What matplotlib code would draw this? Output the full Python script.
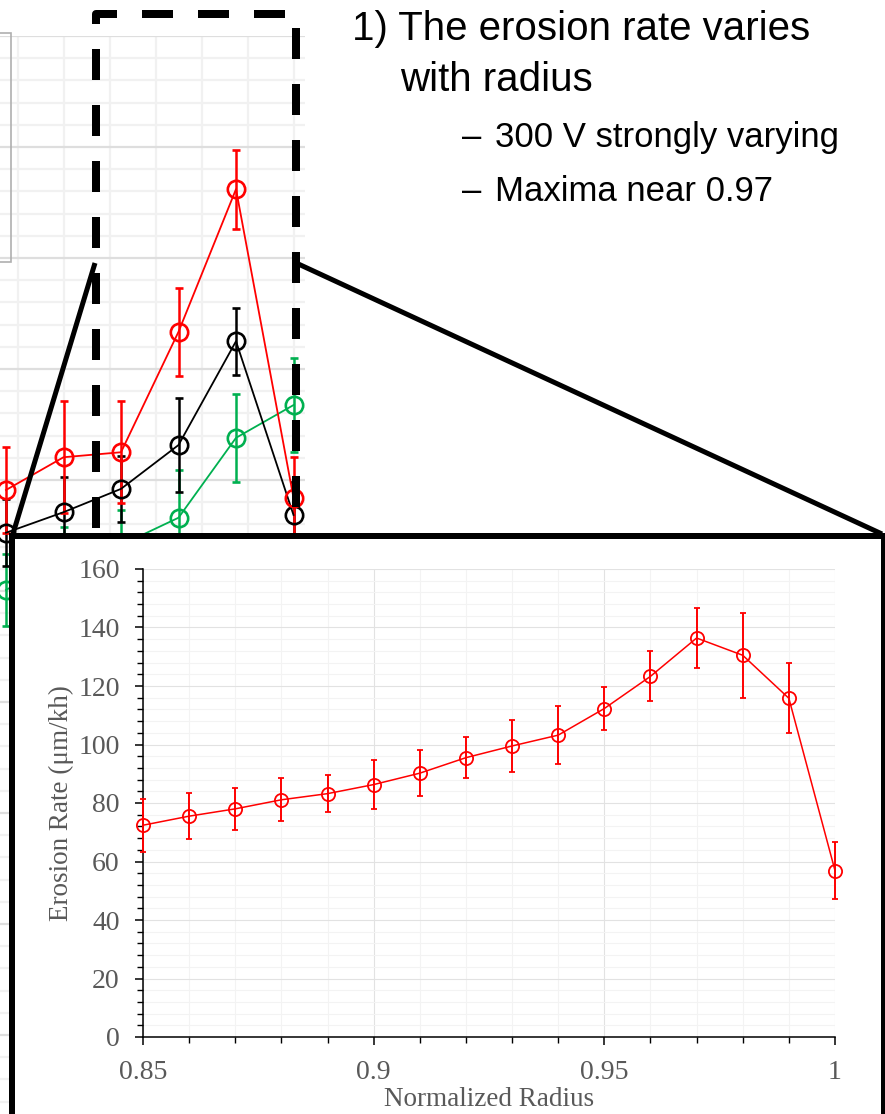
import matplotlib
matplotlib.use("Agg")
import matplotlib.pyplot as plt
import matplotlib.ticker as mticker
from matplotlib.lines import Line2D
from matplotlib.patches import Rectangle

# ---- data -------------------------------------------------------------
# zoomed-in chart (300 V)
radius = [0.85, 0.86, 0.87, 0.88, 0.89, 0.90, 0.91, 0.92,
          0.93, 0.94, 0.95, 0.96, 0.97, 0.98, 0.99, 1.00]
rate = [72.4, 75.5, 78.0, 81.1, 83.2, 86.3, 90.2, 95.5,
        99.5, 103.2, 112.3, 123.3, 136.4, 130.5, 115.8, 56.9]
rate_err = [9.1, 7.8, 7.2, 7.3, 6.4, 8.5, 7.8, 7.1,
            8.9, 9.9, 7.5, 8.5, 10.1, 14.6, 12.0, 9.6]

# background chart (partly hidden behind the zoom)
bg_radius = [0.95, 0.96, 0.97, 0.98, 0.99, 1.00]
bg_red = [38.2, 44.1, 45.0, 66.7, 92.4, 36.8]
bg_red_err = [7.7, 10.1, 9.2, 7.9, 7.1, 7.3]
bg_black = [30.5, 34.2, 38.4, 46.3, 65.0, 33.7]
bg_black_err = [6.0, 6.3, 6.0, 8.4, 6.0, 6.0]
bg_green = [20.2, 25.6, 28.3, 33.2, 47.6, 53.5]
bg_green_err = [6.5, 6.0, 6.3, 8.6, 7.9, 8.5]

bullets = ["300 V strongly varying", "Maxima near 0.97"]

# ---- layout helpers (pixels -> figure fraction) -----------------------
W, H = 885, 1114
PT = 100 / 72.0   # pixels per point


def fx(px):
    return px / W


def fy(py):
    return 1 - py / H


plt.rcParams['lines.scale_dashes'] = False

fig = plt.figure(figsize=(W / 100, H / 100), dpi=100)
fig.patch.set_facecolor('white')

# ---- background chart -------------------------------------------------
bl, br, bt, bb = -40, 305, 36, 1114
bg = fig.add_axes([fx(bl), fy(bb), fx(br) - fx(bl), fy(bt) - fy(bb)], zorder=0)
bg.set_xlim(0.95 + (bl - 6) / 5750, 0.95 + (br - 6) / 5750)
bg.set_ylim(40 - (bb - 480) / 5.55, 40 + (480 - bt) / 5.55)
for s in bg.spines.values():
    s.set_visible(False)
bg.xaxis.set_major_locator(mticker.MultipleLocator(0.008))
bg.yaxis.set_major_locator(mticker.MultipleLocator(20))
bg.yaxis.set_minor_locator(mticker.MultipleLocator(4))
bg.grid(which='major', axis='y', color='#DEDEDE', lw=1.6)
bg.grid(which='minor', axis='y', color='#F1F1F1', lw=1.6)
bg.grid(which='major', axis='x', color='#F1F1F1', lw=1.6)
bg.tick_params(which='both', length=0, labelbottom=False, labelleft=False)

for yv, ev, col in [(bg_green, bg_green_err, '#00B050'),
                    (bg_black, bg_black_err, 'black'),
                    (bg_red, bg_red_err, '#FF0000')]:
    bg.errorbar(bg_radius, yv, yerr=ev, color=col, lw=1.3, marker='o',
                ms=12.5, mfc='none', mew=1.9, elinewidth=1.8, capsize=3,
                capthick=1.8)

# legend box of the background chart
fig.add_artist(Rectangle((fx(-20), fy(262)), fx(11) - fx(-20), fy(33) - fy(262),
                         transform=fig.transFigure, fill=False,
                         edgecolor='#AFAFAF', lw=1.2, zorder=1))

# dashed zoom box
box = Line2D([fx(96), fx(96), fx(296), fx(296)], [fy(528), fy(13.5), fy(13.5), fy(531)],
             transform=fig.transFigure, color='black', lw=8 / PT,
             dash_capstyle='butt', solid_joinstyle='round', dash_joinstyle='round',
             zorder=1)
box.set_linestyle((0, (31 / PT, 25 / PT)))
fig.add_artist(box)

# connector lines
fig.add_artist(Line2D([fx(95), fx(12)], [fy(263), fy(537)], transform=fig.transFigure,
                      color='black', lw=5 / PT, solid_capstyle='butt', zorder=1))
fig.add_artist(Line2D([fx(294), fx(882)], [fy(262), fy(534)], transform=fig.transFigure,
                      color='black', lw=5 / PT, solid_capstyle='butt', zorder=1))

# zoom frame
fig.add_artist(Rectangle((fx(12), fy(1140)), fx(884) - fx(12), fy(536) - fy(1140),
                         transform=fig.transFigure, facecolor='white',
                         edgecolor='black', lw=6 / PT, zorder=2))

# ---- zoomed chart -----------------------------------------------------
al, ar, at, ab = 143, 835, 569, 1037
ax = fig.add_axes([fx(al), fy(ab), fx(ar) - fx(al), fy(at) - fy(ab)], zorder=3)
ax.patch.set_alpha(0)
ax.errorbar(radius, rate, yerr=rate_err, color='#FF0000', lw=1.1, marker='o',
            ms=9.5, mfc='none', mew=1.3, elinewidth=1.4, capsize=2.3, capthick=1.4,
            clip_on=False, zorder=3)
ax.set_xlim(0.85, 1.0)
ax.set_ylim(0, 160)
ax.xaxis.set_major_locator(mticker.MultipleLocator(0.05))
ax.xaxis.set_minor_locator(mticker.MultipleLocator(0.01))
ax.yaxis.set_major_locator(mticker.MultipleLocator(20))
ax.yaxis.set_minor_locator(mticker.MultipleLocator(4))
ax.xaxis.set_major_formatter(mticker.FuncFormatter(lambda v, p: ('%.2f' % v).rstrip('0').rstrip('.')))
ax.grid(which='major', color='#E2E2E2', lw=0.8)
ax.grid(which='minor', color='#F3F3F3', lw=0.8)
ax.set_axisbelow(True)
for side in ['top', 'right']:
    ax.spines[side].set_visible(False)
for side in ['left', 'bottom']:
    ax.spines[side].set_linewidth(1.1)
ax.tick_params(which='major', direction='out', length=5.8, width=1.1, color='black',
               labelcolor='#595959', labelsize=20)
ax.tick_params(which='minor', direction='out', length=4.3, width=1.0, color='black')
ax.tick_params(axis='y', which='major', pad=11)
ax.tick_params(axis='x', which='major', pad=11)
for lbl in ax.get_xticklabels() + ax.get_yticklabels():
    lbl.set_family('Liberation Serif')
ax.set_xlabel('Normalized Radius', family='Liberation Serif', fontsize=19.5,
              color='#595959', labelpad=1)
ax.set_ylabel('Erosion Rate (μm/kh)', family='Liberation Serif', fontsize=19.5,
              color='#595959', labelpad=3)

# ---- slide text -------------------------------------------------------
fig.text(fx(352), fy(40), '1) The erosion rate varies', family='Liberation Sans',
         fontsize=29, va='baseline', zorder=4)
fig.text(fx(400), fy(91), 'with radius', family='Liberation Sans',
         fontsize=29, va='baseline', zorder=4)
for i, b in enumerate(bullets):
    yb = 147 + 54 * i
    fig.text(fx(462), fy(yb), '–', family='Liberation Sans', fontsize=25,
             va='baseline', zorder=4)
    fig.text(fx(495), fy(yb), b, family='Liberation Sans', fontsize=25,
             va='baseline', zorder=4)

fig.savefig('out.png', dpi=100)
